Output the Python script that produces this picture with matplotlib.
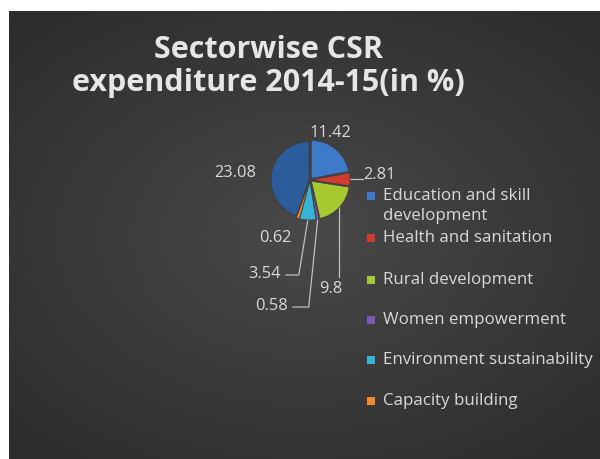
import numpy as np
import matplotlib.pyplot as plt
from matplotlib.patches import Rectangle

# ─── Data ─────────────────────────────────────────────────────────────
sectors = ['Education and skill\ndevelopment', 'Health and sanitation',
           'Rural development', 'Women empowerment',
           'Environment sustainability', 'Capacity building', 'Other sectors']
shares = [11.42, 2.81, 9.8, 0.58, 3.54, 0.62, 23.08]
value_labels = ['11.42', '2.81', '9.8', '0.58', '3.54', '0.62', '23.08']
colors = ['#3d7ac8', '#d23b2f', '#a6c932', '#7e57b0', '#36b4d6', '#f08a2a', '#2d5c9c']
n_legend = 6   # the last legend entry is cut off in the original

plt.rcParams['font.family'] = ['Open Sans', 'DejaVu Sans']
txt_col = '#d9d9d9'
fs = 12.2

fig = plt.figure(figsize=(6, 4.59), dpi=100)
fig.patch.set_facecolor('white')
ax = fig.add_axes([0, 0, 1, 1])

# ─── Background panel (radial gradient) ───────────────────────────────
gy, gx = np.mgrid[-1:1:300j, -1:1:400j]
r = np.sqrt((gx / 1.1) ** 2 + (gy / 1.0) ** 2)
shade = 0.285 - 0.11 * np.clip(r, 0, 1.3) / 1.3
bg = np.dstack([shade, shade, shade])
ax.imshow(bg, extent=[9, 600, 0, 448], origin='lower', aspect='auto', zorder=0)

# ─── Pie ──────────────────────────────────────────────────────────────
cx, cy, rad = 310, 459 - 180, 38
explode = [2, 2, 2, 2, 2, 2, 1]
wedges, _ = ax.pie(shares, colors=colors, startangle=90, counterclock=False,
                   center=(cx, cy), radius=rad, explode=explode,
                   wedgeprops=dict(edgecolor='#3a3a3a', linewidth=0.4))
for w in wedges:
    w.set_zorder(3)

# ─── Data labels ──────────────────────────────────────────────────────
# (label x, label y in pixel rows, leader style) per slice
label_pos = [(330, 133, None), (380, 172, 'h'), (331, 289, 'v'),
             (272, 306, 'e'), (265, 274, 'e'), (275, 238, None), (235, 173, None)]
for w, lab, (lx, ly, lead) in zip(wedges, value_labels, label_pos):
    ly = 459 - ly
    mid = np.deg2rad((w.theta1 + w.theta2) / 2)
    ex, ey = w.center[0] + rad * np.cos(mid), w.center[1] + rad * np.sin(mid)
    if lead == 'h':
        ax.plot([ex, lx - 17], [ey, ey], color='#bfbfbf', lw=0.9, zorder=2)
        ly = ey + 4
    elif lead == 'v':
        ax.plot([ex, ex], [ey, ly + 12], color='#bfbfbf', lw=0.9, zorder=2)
    elif lead == 'e':
        ax.plot([ex, ex - 9, lx + 21], [ey, ly - 1, ly - 1], color='#bfbfbf', lw=0.9, zorder=2)
    ax.text(lx, ly, lab, color=txt_col, fontsize=fs - 0.4, ha='center', va='center')

# ─── Legend (drawn by hand to keep Excel's spacing) ───────────────────
leg_y = [206, 238, 280, 320, 360, 401]
for name, col, yy in zip(sectors[:n_legend], colors[:n_legend], leg_y):
    yy = 459 - yy
    my = yy + 10 if '\n' in name else yy
    ax.add_patch(Rectangle((367, my - 4), 8, 8, facecolor=col, edgecolor='none', zorder=3))
    ax.text(383, yy, name, color=txt_col, fontsize=fs, ha='left', va='center',
            linespacing=1.35)

# ─── Title ────────────────────────────────────────────────────────────
ax.text(268, 459 - 50, 'Sectorwise CSR', color='#e6e6e6', fontsize=22,
        fontweight='bold', ha='center', va='center')
ax.text(268, 459 - 83, 'expenditure 2014-15(in %)', color='#e6e6e6', fontsize=22,
        fontweight='bold', ha='center', va='center')

ax.set_xlim(0, 600)
ax.set_ylim(0, 459)
ax.set_aspect('auto')
ax.axis('off')

fig.savefig('out.png', dpi=100, facecolor='white')
